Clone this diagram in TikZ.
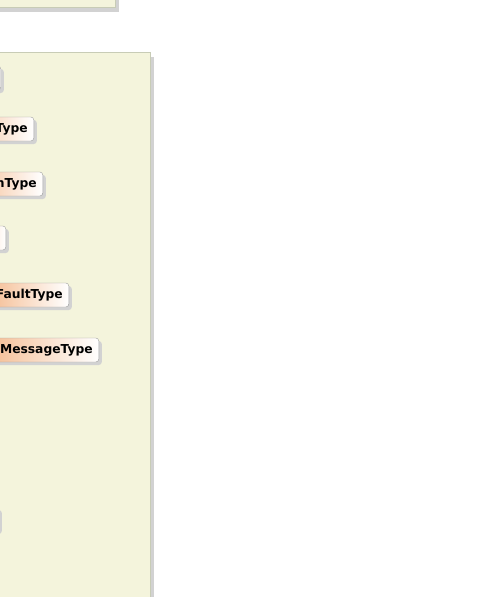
\documentclass[tikz,border=0pt]{standalone}
\usepackage{fontspec}
\setsansfont{DejaVu Sans}
\usetikzlibrary{shadows}

\definecolor{panelbg}{RGB}{244,244,220}
\definecolor{panelline}{RGB}{200,204,182}
\definecolor{shadowgrey}{RGB}{210,210,210}
\definecolor{typeorange}{RGB}{240,160,100}

\tikzset{
  panel/.style={draw=panelline, fill=panelbg, line width=0.8pt},
  panelshadow/.style={fill=shadowgrey},
  typebox/.style={draw=gray!75, rounded corners=3pt, left color=typeorange, right color=white,
    font=\sffamily\bfseries\fontsize{12.3}{13}\selectfont, minimum height=24pt, align=right,
    inner xsep=6pt, inner ysep=0pt, anchor=east,
    drop shadow={shadow xshift=3pt, shadow yshift=-3pt, fill=shadowgrey, opacity=1}},
}

\begin{document}
\begin{tikzpicture}[x=1pt,y=-1pt]
    \useasboundingbox (0,0) rectangle (503,597);
    \clip (0,0) rectangle (503,597);
    \fill[panelshadow] (-20,-20) rectangle (119,12); % shadow of upper panel
    \draw[panel] (-20,-20) rectangle (115,7); % upper panel
    \fill[panelshadow] (-20,57) rectangle (154,620); % shadow of lower panel
    \draw[panel] (-20,52) rectangle (150,620); % lower panel
    \node[typebox, text width=60pt] (first) at (1,78) {}; % cut off box
    \node[typebox, text width=101pt] (type) at (34,129) {Type};
    \node[typebox, text width=95pt] (ntype) at (43,184) {nType};
    \node[typebox, text width=60pt] (element) at (6,238) {}; % cut off box
    \node[typebox, text width=103pt] (faulttype) at (69,295) {FaultType};
    \node[typebox, text width=148pt] (messagetype) at (99,350) {MessageType};
    \node[typebox, text width=60pt] (last) at (-1,519) {}; % cut off box
  \end{tikzpicture}
\end{document}
